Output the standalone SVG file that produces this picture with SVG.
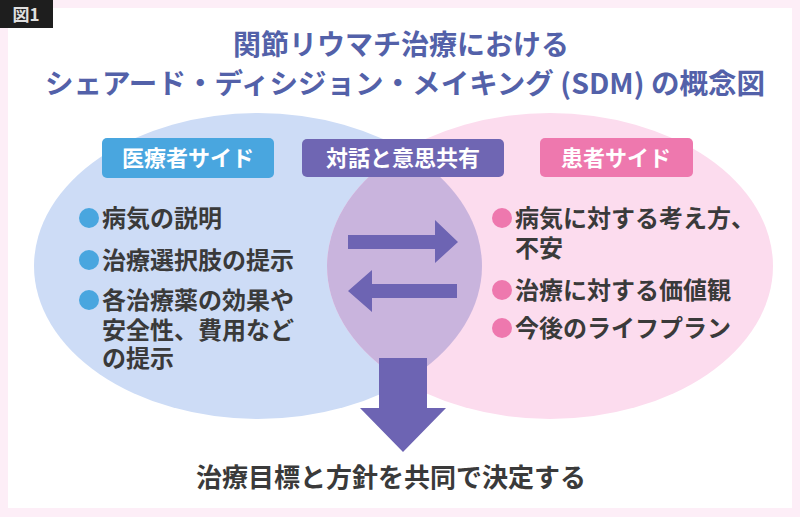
<svg xmlns="http://www.w3.org/2000/svg" width="800" height="517" viewBox="0 0 800 517">
<style>
.jp{font-family:"Noto Sans CJK JP","Noto Sans CJK SC",sans-serif;}
.title{font-size:28px;font-weight:700;fill:#5361a9;text-anchor:middle;}
.lbl{font-size:22px;font-weight:700;fill:#ffffff;text-anchor:middle;}
.item{font-family:"Liberation Sans","Noto Sans CJK JP","Noto Sans CJK SC",sans-serif;font-size:24px;font-weight:700;fill:#3a3a3a;}
.arrow{fill:#6d64b3;}
</style>
<defs>
<clipPath id="clipBlue"><ellipse cx="258" cy="266" rx="224" ry="153"/></clipPath>
</defs>
<rect x="0" y="0" width="800" height="517" fill="#fdeef7"/>
<rect x="8" y="8" width="784" height="500" fill="#ffffff"/>
<g id="fig-label">
<rect x="0" y="0" width="53" height="28" fill="#1e1e1e"/>
<text class="jp" x="26" y="21" font-size="17" font-weight="700" fill="#e0e0e0" text-anchor="middle">図1</text>
</g>
<g id="title">
<text class="jp title" x="401" y="55">関節リウマチ治療における</text>
<text class="jp title" x="405" y="94" textLength="720" lengthAdjust="spacingAndGlyphs">シェアード・ディシジョン・メイキング (SDM) の概念図</text>
</g>
<g id="ellipses">
<ellipse cx="258" cy="266" rx="224" ry="153" fill="#cddcf6"/>
<ellipse cx="550" cy="266" rx="223" ry="153" fill="#fcdcee"/>
<ellipse cx="550" cy="266" rx="223" ry="153" fill="#c9b4dd" clip-path="url(#clipBlue)"/>
</g>
<g id="provider-side">
<rect x="102" y="138" width="172" height="40" rx="5" fill="#49a6df"/>
<text class="jp lbl" x="188" y="166">医療者サイド</text>
<circle cx="89" cy="218" r="10" fill="#49a6df"/>
<text class="item" x="102" y="227">病気の説明</text>
<circle cx="89" cy="260" r="10" fill="#49a6df"/>
<text class="item" x="102" y="269">治療選択肢の提示</text>
<circle cx="89" cy="300" r="10" fill="#49a6df"/>
<text class="item" x="102" y="309">各治療薬の効果や</text>
<text class="item" x="102" y="339">安全性、費用など</text>
<text class="item" x="102" y="367">の提示</text>
</g>
<g id="dialogue">
<rect x="302" y="139" width="202" height="38" rx="5" fill="#6f66b3"/>
<text class="jp lbl" x="403" y="166">対話と意思共有</text>
</g>
<g id="patient-side">
<rect x="540" y="138" width="153" height="39" rx="5" fill="#ee78ae"/>
<text class="jp lbl" x="616" y="166">患者サイド</text>
<circle cx="502" cy="218" r="10" fill="#ee78ae"/>
<text class="item" x="515" y="227">病気に対する考え方、</text>
<text class="item" x="515" y="257">不安</text>
<circle cx="502" cy="290" r="10" fill="#ee78ae"/>
<text class="item" x="515" y="299">治療に対する価値観</text>
<circle cx="502" cy="328" r="10" fill="#ee78ae"/>
<text class="item" x="515" y="337">今後のライフプラン</text>
</g>
<g id="connectors">
<path class="arrow" d="M348,235 H435 V220 L458,242 L435,263 V249 H348 Z"/>
<path class="arrow" d="M457,284 H372 V270 L348,291 L372,312 V298 H457 Z"/>
<path class="arrow" d="M379,358 H427 V408 H446 L403,452 L360,408 H379 Z"/>
</g>
<g id="result">
<text class="jp" x="391" y="487" font-size="26" font-weight="700" fill="#3a3a3a" text-anchor="middle">治療目標と方針を共同で決定する</text>
</g>
</svg>
